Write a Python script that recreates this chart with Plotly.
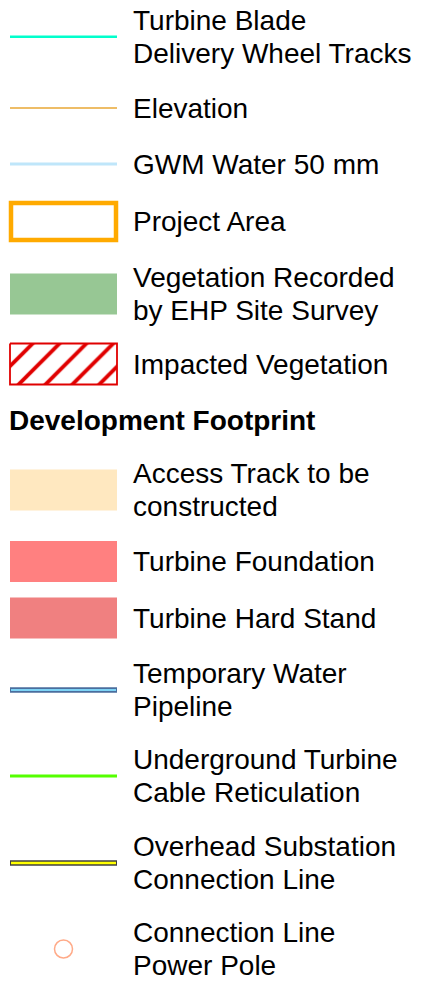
import plotly.graph_objects as go

# ---------------- data ----------------
labels = [
    "Turbine Blade<br>Delivery Wheel Tracks",
    "Elevation",
    "GWM Water 50 mm",
    "Project Area",
    "Vegetation Recorded<br>by EHP Site Survey",
    "Impacted Vegetation",
    "Development Footprint",
    "Access Track to be<br>constructed",
    "Turbine Foundation",
    "Turbine Hard Stand",
    "Temporary Water<br>Pipeline",
    "Underground Turbine<br>Cable Reticulation",
    "Overhead Substation<br>Connection Line",
    "Connection Line<br>Power Pole",
]
kinds = ["line", "line", "line", "box", "fill", "hatch", "header",
         "fill", "fill", "fill", "dline", "line", "dline", "circle"]

# ---------------- styles / layout ----------------
styles = [
    dict(color="#00FFCC", width=2.6),
    dict(color="#E8A735", width=1.3),
    dict(color="#BFE6FA", width=3.2),
    dict(color="#FFAA00", width=4.5),
    dict(color="#97C794"),
    dict(color="#E00000", width=1.8),
    dict(),
    dict(color="#FFE8C0"),
    dict(color="#FF8080"),
    dict(color="#F08080"),
    dict(color="#4A6E9E", width=5.5, inner="#7DD3F5", iwidth=2.2),
    dict(color="#55FF00", width=3.2),
    dict(color="#404040", width=5.5, inner="#FFFF00", iwidth=2.6),
    dict(color="#FFAA88", width=1.5),
]
row_y = [36.7, 108, 164, 221.5, 294, 364, 420, 490, 561.5, 618, 690, 776, 863, 949]
sym_x0, sym_x1, sym_h = 10, 117, 41
text_x = 132
header_x = 8
line_gap = 33.4
W, H = 433, 983
FONT = "Liberation Sans, Arial, sans-serif"
FS = 28

fig = go.Figure()
shapes = []
annotations = []


def add_text(txt, x, yc, bold=False):
    parts = txt.split("<br>")
    n = len(parts)
    for i, p in enumerate(parts):
        y = yc + (i - (n - 1) / 2) * line_gap
        annotations.append(dict(x=x, y=y, xref="x", yref="y",
                                text=("<b>" + p + "</b>") if bold else p,
                                showarrow=False, xanchor="left", yanchor="middle", align="left",
                                borderpad=0,
                                font=dict(family=FONT, size=FS, color="#000000")))


for lab, kind, st, yc in zip(labels, kinds, styles, row_y):
    if kind == "header":
        add_text(lab, header_x, yc, bold=True)
        continue
    if kind == "line":
        shapes.append(dict(type="line", xref="x", yref="y", x0=sym_x0, x1=sym_x1, y0=yc, y1=yc,
                           line=dict(color=st["color"], width=st["width"])))
    elif kind == "dline":
        shapes.append(dict(type="line", xref="x", yref="y", x0=sym_x0, x1=sym_x1, y0=yc, y1=yc,
                           line=dict(color=st["color"], width=st["width"])))
        shapes.append(dict(type="line", xref="x", yref="y", x0=sym_x0 + 1, x1=sym_x1 - 1, y0=yc, y1=yc,
                           line=dict(color=st["inner"], width=st["iwidth"])))
    elif kind == "box":
        shapes.append(dict(type="rect", xref="x", yref="y", x0=sym_x0 + 1, x1=sym_x1 - 1,
                           y0=yc - sym_h / 2 + 2, y1=yc + sym_h / 2 - 2,
                           line=dict(color=st["color"], width=st["width"]), fillcolor="rgba(0,0,0,0)"))
    elif kind == "fill":
        shapes.append(dict(type="rect", xref="x", yref="y", x0=sym_x0, x1=sym_x1,
                           y0=yc - sym_h / 2, y1=yc + sym_h / 2,
                           line=dict(width=0), fillcolor=st["color"]))
    elif kind == "hatch":
        y0, y1 = yc - sym_h / 2, yc + sym_h / 2
        fig.add_trace(go.Scatter(
            x=[sym_x0, sym_x1, sym_x1, sym_x0, sym_x0],
            y=[y0, y0, y1, y1, y0],
            mode="lines", fill="toself", fillcolor="white",
            fillpattern=dict(shape="/", fgcolor=st["color"], fgopacity=1, bgcolor="white",
                             size=19, solidity=0.2),
            line=dict(color=st["color"], width=st["width"]),
            hoverinfo="skip", showlegend=False))
    elif kind == "circle":
        xc = (sym_x0 + sym_x1) / 2
        shapes.append(dict(type="circle", xref="x", yref="y", x0=xc - 9, x1=xc + 9, y0=yc - 9, y1=yc + 9,
                           line=dict(color=st["color"], width=st["width"]), fillcolor="rgba(0,0,0,0)"))
    add_text(lab, text_x, yc)

fig.update_layout(
    width=W, height=H,
    margin=dict(l=0, r=0, t=0, b=0),
    paper_bgcolor="white", plot_bgcolor="white",
    xaxis=dict(range=[0, W], visible=False, fixedrange=True),
    yaxis=dict(range=[H, 0], visible=False, fixedrange=True),
    shapes=shapes, annotations=annotations,
    showlegend=False,
)
fig.write_html("out.html", config=dict(displayModeBar=False),
               post_script="document.body.style.margin='0';document.body.style.overflow='hidden';")
